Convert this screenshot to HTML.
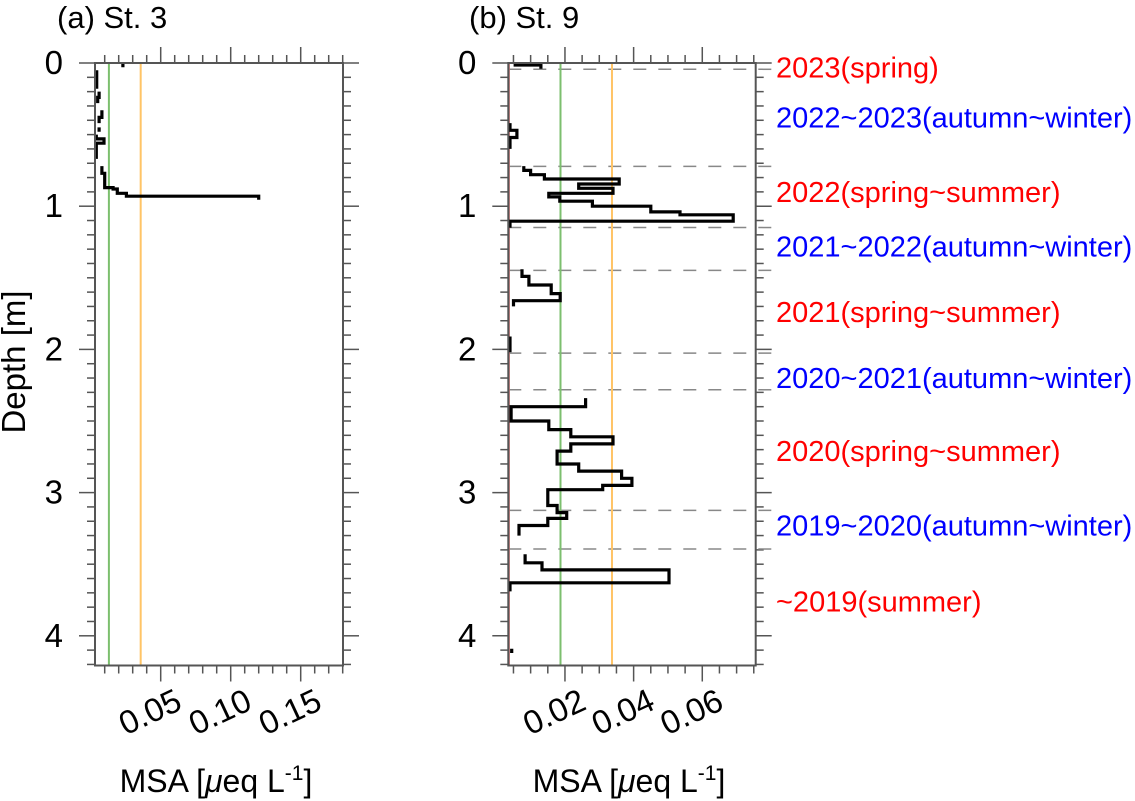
<!DOCTYPE html>
<html><head><meta charset="utf-8">
<style>
html,body{margin:0;padding:0;background:#fff;}
svg{display:block;font-family:"Liberation Sans",sans-serif;}
</style></head>
<body>
<svg id="chart" width="1135" height="801" viewBox="0 0 1135 801" xmlns="http://www.w3.org/2000/svg"></svg>
<script>
// ---- Panel (a) St. 3 data ----
const aTop = [0.00, 0.05, 0.20, 0.24, 0.33, 0.38, 0.45, 0.50, 0.53, 0.56, 0.60, 0.72, 0.77, 0.84, 0.87, 0.88, 0.91, 0.93];
const aBot = [0.03, 0.18, 0.24, 0.28, 0.38, 0.42, 0.48, 0.53, 0.56, 0.60, 0.67, 0.77, 0.84, 0.87, 0.88, 0.91, 0.93, 0.955];
const aVal = [0.023, 0.0043, 0.006, 0.005, 0.008, 0.006, 0.006, 0.004, 0.0095, 0.004, 0.004, 0.008, 0.010, 0.010, 0.016, 0.019, 0.0255, 0.12];
const aXTicks = [0.05, 0.10, 0.15];
const aXTickLabels = ["0.05", "0.10", "0.15"];
const aRefGreen = 0.013, aRefOrange = 0.0357;

// ---- Panel (b) St. 9 data ----
const bTop = [0.00, 0.014, 0.42, 0.47, 0.52, 0.72, 0.75, 0.78, 0.81, 0.845, 0.875, 0.91, 0.935, 0.965, 1.00, 1.04, 1.06, 1.105,
              1.44, 1.49, 1.55, 1.61, 1.66, 1.91,
              2.34, 2.40, 2.50, 2.56, 2.61, 2.66, 2.71, 2.80, 2.85, 2.90, 2.95, 2.98, 3.09, 3.14, 3.18, 3.23,
              3.43, 3.49, 3.54, 3.63, 4.09];
const bBot = [0.014, 0.04, 0.47, 0.52, 0.60, 0.75, 0.78, 0.81, 0.845, 0.875, 0.91, 0.935, 0.965, 1.00, 1.04, 1.06, 1.105, 1.15,
              1.49, 1.55, 1.61, 1.66, 1.70, 2.02,
              2.40, 2.50, 2.56, 2.61, 2.66, 2.71, 2.80, 2.85, 2.90, 2.95, 2.98, 3.09, 3.14, 3.18, 3.23, 3.30,
              3.49, 3.54, 3.63, 3.69, 4.12];
const bVal = [0.0055, 0.013, 0.004, 0.006, 0.004, 0.008, 0.010, 0.014, 0.0358, 0.024, 0.034, 0.0153, 0.0185, 0.028, 0.045, 0.0535, 0.069, 0.004,
              0.0075, 0.0095, 0.016, 0.0186, 0.005, 0.004,
              0.026, 0.0043, 0.0153, 0.0217, 0.034, 0.0217, 0.0177, 0.024, 0.0365, 0.0395, 0.031, 0.015, 0.0177, 0.0205, 0.015, 0.0066,
              0.0084, 0.0133, 0.0503, 0.004, 0.0045];
const bXTicks = [0.02, 0.04, 0.06];
const bXTickLabels = ["0.02", "0.04", "0.06"];
const bRefGreen = 0.0187, bRefOrange = 0.0337;
const bBoundaries = [0.044, 0.722, 1.149, 1.448, 2.026, 2.282, 3.124, 3.394];
const seasonLabels = ["2023(spring)", "2022~2023(autumn~winter)", "2022(spring~summer)", "2021~2022(autumn~winter)",
  "2021(spring~summer)", "2020~2021(autumn~winter)", "2020(spring~summer)", "2019~2020(autumn~winter)", "~2019(summer)"];
const seasonDepths = [0.03, 0.38, 0.90, 1.28, 1.74, 2.20, 2.71, 3.23, 3.76];
const seasonColors = ["#f00", "#00f", "#f00", "#00f", "#f00", "#00f", "#f00", "#00f", "#f00"];
const depthTicks = [0, 1, 2, 3, 4];

const NS = "http://www.w3.org/2000/svg";
const svg = document.getElementById("chart");
function mk(tag, attrs, parent) {
  const e = document.createElementNS(NS, tag);
  for (const k in attrs) e.setAttribute(k, attrs[k]);
  (parent || svg).appendChild(e);
  return e;
}
const Y0 = 63, PXM = 143.2, YB = 665.5;
function yS(d) { return Y0 + d * PXM; }

function panel(opt) {
  const g = mk("g", {});
  
  
  const xS = v => opt.x0 + v * opt.ppu;
  const L = opt.left, R = opt.right;
  for (let i = 1; ; i++) {
    const v = +(i * opt.minor).toFixed(4);
    const x = xS(v);
    if (x > R + 0.5) break;
    if (x < L) continue;
    const major = Math.abs(v / opt.major - Math.round(v / opt.major)) < 1e-6;
    const len = major ? 16 : 8;
    const t1 = mk("line", {x1:x, x2:x, y1:Y0, y2:Y0-len, stroke:"#555", "stroke-width":1.5}, g);
    
    
    const t2 = mk("line", {x1:x, x2:x, y1:YB, y2:YB+len, stroke:"#555", "stroke-width":1.5}, g);
    
    
  }
  for (let i = 0; i <= 42; i++) {
    const d = i / 10, y = yS(d);
    if (y > YB + 0.5) break;
    const len = (i % 10 === 0) ? 16 : 8;
    const t1 = mk("line", {x1:L, x2:L-len, y1:y, y2:y, stroke:"#555", "stroke-width":1.5}, g);
    
    
    const t2 = mk("line", {x1:R, x2:R+len, y1:y, y2:y, stroke:"#555", "stroke-width":1.5}, g);
    
    
  }
  depthTicks.forEach(d => {
    const t = mk("text", {x:L-32, y:yS(d)+11, "text-anchor":"end", "font-size":33, fill:"#000"}, g);
    t.textContent = String(d);
    
    
  });
  opt.xt.forEach((v, i) => {
    const x = xS(v) - 6, y = 722;
    const t = mk("text", {x:x, y:y, "text-anchor":"middle", "font-size":33, fill:"#000", transform:`rotate(-25 ${x} ${y})`}, g);
    t.textContent = opt.xtl[i];
    
    
  });
  if (opt.bounds) opt.bounds.forEach(d => {
    const l = mk("line", {x1:L, x2:776, y1:yS(d), y2:yS(d), stroke:"#888", "stroke-width":1.5, "stroke-dasharray":"13,12"}, g);
    
    
  });
  if (opt.redEdge) {
    const l = mk("line", {x1:L+1, x2:L+1, y1:Y0, y2:YB, stroke:"#c77", "stroke-width":1.2}, g);
    
    
  }
  const gl = mk("line", {x1:xS(opt.green), x2:xS(opt.green), y1:Y0, y2:YB, stroke:"#7cbf6e", "stroke-width":2}, g);
  
  
  const ol = mk("line", {x1:xS(opt.orange), x2:xS(opt.orange), y1:Y0, y2:YB, stroke:"#ffc466", "stroke-width":2}, g);
  
  
  let d = "";
  for (let i = 0; i < opt.val.length; i++) {
    const x = xS(opt.val[i]), y1 = yS(opt.top[i]), y2 = yS(opt.bot[i]);
    const contiguous = i > 0 && Math.abs(opt.top[i] - opt.bot[i-1]) < 1e-6;
    d += (contiguous ? " L" : " M") + x.toFixed(1) + " " + y1.toFixed(1) + " L" + x.toFixed(1) + " " + y2.toFixed(1);
  }
  const p = mk("path", {d:d, fill:"none", stroke:"#000", "stroke-width":3.2, "stroke-linejoin":"miter"}, g);
  
  
  const f = mk("rect", {x:L, y:Y0, width:R-L, height:YB-Y0, fill:"none", stroke:"#555", "stroke-width":2}, g);
  
  
  const tt = mk("text", {x:opt.titleX, y:28, "font-size":31, fill:"#000"}, g);
  tt.textContent = opt.title;
  
  
  const xt = mk("text", {x:(L+R)/2 - 3, y:792, "text-anchor":"middle", "font-size":32, fill:"#000"}, g);
  xt.innerHTML = 'MSA [<tspan font-style="italic">μ</tspan>eq L<tspan dy="-12" font-size="21">-1</tspan><tspan dy="12">]</tspan>';
  
  
}

panel({name:"panel-a-st3", left:95, right:343, x0:90.7, ppu:1400, minor:0.01, major:0.05,
  xt:aXTicks, xtl:aXTickLabels, green:aRefGreen, orange:aRefOrange, top:aTop, bot:aBot, val:aVal,
  title:"(a) St. 3", titleX:57});
panel({name:"panel-b-st9", left:508.3, right:755.7, x0:496.3, ppu:3433, minor:0.005, major:0.02,
  xt:bXTicks, xtl:bXTickLabels, green:bRefGreen, orange:bRefOrange, top:bTop, bot:bBot, val:bVal,
  bounds:bBoundaries, redEdge:true, title:"(b) St. 9", titleX:469});

const yl = mk("text", {x:0, y:0, "text-anchor":"middle", "font-size":33, fill:"#000", transform:"translate(25 362) rotate(-90)"});
yl.textContent = "Depth [m]";



seasonLabels.forEach((s, i) => {
  const t = mk("text", {x:776, y:yS(seasonDepths[i]) + 10, "font-size":29, fill:seasonColors[i]});
  t.textContent = s;
  
  
});
</script>
</body></html>
